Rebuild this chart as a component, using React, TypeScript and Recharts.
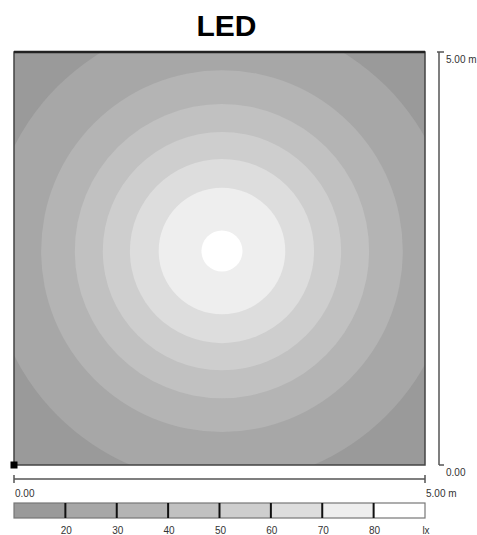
import React from 'react';
import * as Recharts from 'recharts';

const { ScatterChart, Scatter, XAxis, YAxis, CartesianGrid, ReferenceArea, ReferenceLine, ReferenceDot } = Recharts as any;

// plot area size hook (name differs between recharts 3 minors)
const usePlotBox: () => any = (Recharts as any).usePlotArea ?? (Recharts as any).useOffset ?? (() => null);

// room is 5 x 5 m
const ROOM = [0, 5];
const AXIS_TICKS = [0, 5];

// isolux levels (lx) and the radius (m) of each contour around the luminaire
const LUX_LEVELS = [20, 30, 40, 50, 60, 70, 80];
const CONTOUR_RADII = [2.83, 2.2, 1.79, 1.45, 1.12, 0.77, 0.25];
const LUMINAIRE_X = 2.53;
const LUMINAIRE_Y = 2.59;

// one grey per band: <20, 20-30, ... , >80
const SHADES = ['#9a9a9a', '#a7a7a7', '#b4b4b4', '#c1c1c1', '#cecece', '#dddddd', '#eeeeee', '#ffffff'];

const W = 477;
const H = 535;
const FONT = '"Liberation Sans", Arial, sans-serif';
const INK = '#555';

const contours = LUX_LEVELS.map((level, i) => ({
  x: LUMINAIRE_X,
  y: LUMINAIRE_Y,
  r: CONTOUR_RADII[i],
  level,
  fill: SHADES[i + 1],
}));

const fmt = (v: number) => v.toFixed(2) + (v === ROOM[1] ? ' m' : '');

const Ring = (props: any) => {
  const box = usePlotBox();
  const { cx, cy, payload } = props;
  const pxPerM = box && box.width ? box.width / (ROOM[1] - ROOM[0]) : 411 / 5;
  return <circle cx={cx} cy={cy} r={payload.r * pxPerM} fill={payload.fill} />;
};

const BottomTick = ({ x, y, payload }: any) => (
  <g>
    <line x1={x} x2={x} y1={y + 10} y2={y + 18} stroke={INK} strokeWidth={1.5} />
    <text x={x + 1} y={y + 32} fontSize={10} fill="#333" fontFamily={FONT}>
      {fmt(payload.value)}
    </text>
  </g>
);

const RightTick = ({ x, y, payload }: any) => (
  <g>
    <line x1={x + (payload.value === ROOM[1] ? 12 : 14)} x2={x + 19} y1={y} y2={y} stroke={INK} strokeWidth={1.5} />
    <text x={x + 21} y={y + 11} fontSize={10} fill="#333" fontFamily={FONT}>
      {fmt(payload.value)}
    </text>
  </g>
);

const HBar = ({ viewBox }: any) =>
  viewBox ? (
    <line x1={viewBox.x} x2={viewBox.x + viewBox.width} y1={viewBox.y + 14} y2={viewBox.y + 14} stroke={INK} strokeWidth={1.5} />
  ) : null;

const VBar = ({ viewBox }: any) =>
  viewBox ? (
    <line x1={viewBox.x + 14} x2={viewBox.x + 14} y1={viewBox.y} y2={viewBox.y + viewBox.height} stroke={INK} strokeWidth={1.5} />
  ) : null;

const Corner = ({ cx, cy }: any) => <rect x={cx - 3.5} y={cy - 3.5} width={7} height={7} fill="#000" />;

const ColourScale = () => {
  const x0 = 14;
  const w = 411;
  const seg = w / SHADES.length;
  const labels = [...LUX_LEVELS.map(String), 'lx'];
  return (
    <svg width={W} height={40} style={{ position: 'absolute', left: 0, top: 496 }}>
      {SHADES.map((c, i) => (
        <rect key={c} x={x0 + i * seg} y={7} width={seg} height={15} fill={c} />
      ))}
      <rect x={x0} y={7} width={w} height={15} fill="none" stroke="#777" strokeWidth={1.2} />
      {LUX_LEVELS.map((_, i) => (
        <line key={i} x1={x0 + (i + 1) * seg} x2={x0 + (i + 1) * seg} y1={7} y2={22} stroke="#111" strokeWidth={2} />
      ))}
      {labels.map((t, i) => (
        <text key={t} x={x0 + (i + 1) * seg + 1} y={38} fontSize={10} fill="#333" textAnchor="middle" fontFamily={FONT}>
          {t}
        </text>
      ))}
    </svg>
  );
};

export default function App() {
  return (
    <div style={{ position: 'absolute', left: 0, top: 0, width: W, height: H, background: '#fff', fontFamily: FONT }}>
      <div
        style={{
          position: 'absolute',
          left: 0,
          top: 11,
          width: 453,
          textAlign: 'center',
          fontSize: 30,
          lineHeight: '30px',
          fontWeight: 'bold',
          color: '#000',
        }}
      >
        LED
      </div>
      <div style={{ position: 'absolute', left: 0, top: 0 }}>
        <ScatterChart width={W} height={H} margin={{ top: 52, left: 14, right: 7, bottom: 40 }}>
          <CartesianGrid horizontal={false} vertical={false} fill={SHADES[0]} fillOpacity={1} />
          <XAxis
            type="number"
            dataKey="x"
            domain={ROOM}
            ticks={AXIS_TICKS}
            allowDataOverflow
            height={30}
            axisLine={false}
            tickLine={false}
            tickSize={0}
            tickMargin={0}
            tick={<BottomTick />}
            label={{ content: HBar, position: 'insideBottom' }}
          />
          <YAxis
            type="number"
            dataKey="y"
            orientation="right"
            domain={ROOM}
            ticks={AXIS_TICKS}
            allowDataOverflow
            width={45}
            axisLine={false}
            tickLine={false}
            tickSize={0}
            tickMargin={0}
            tick={<RightTick />}
            label={{ content: VBar, position: 'insideLeft' }}
          />
          <Scatter data={contours} shape={<Ring />} isAnimationActive={false} />
          <ReferenceArea
            x1={ROOM[0]}
            x2={ROOM[1]}
            y1={ROOM[0]}
            y2={ROOM[1]}
            fill="none"
            stroke="#444"
            strokeWidth={1.5}
            zIndex={1000}
          />
          <ReferenceLine y={ROOM[1]} stroke="#222" strokeWidth={2.5} zIndex={1000} />
          <ReferenceDot x={ROOM[0]} y={ROOM[0]} r={4} shape={Corner} ifOverflow="visible" zIndex={1000} />
        </ScatterChart>
      </div>
      <ColourScale />
    </div>
  );
}
